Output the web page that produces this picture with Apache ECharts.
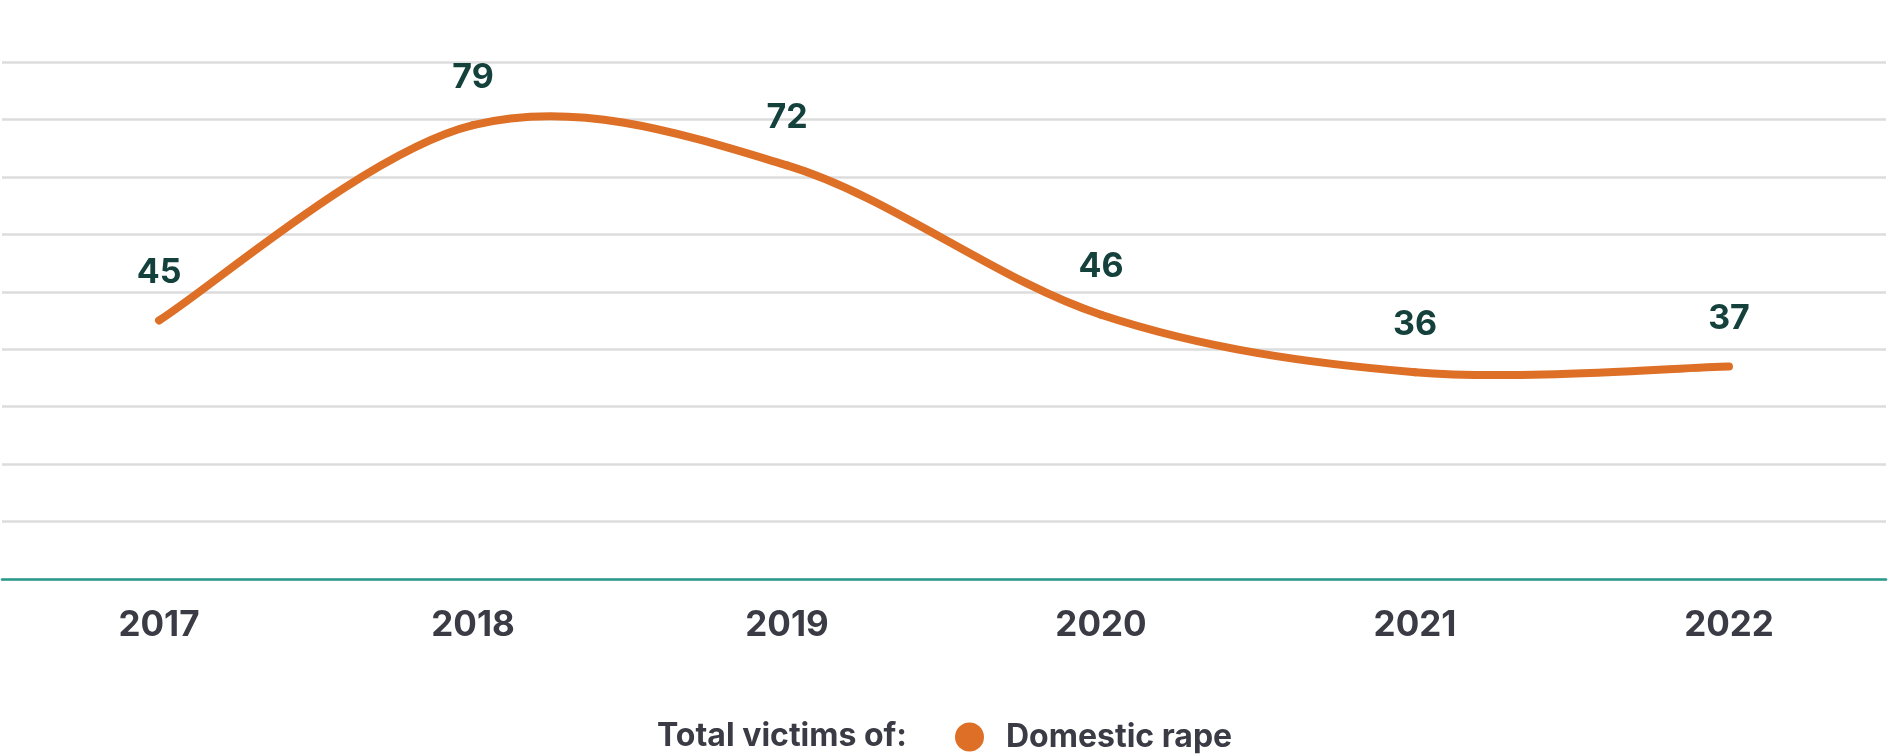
<!DOCTYPE html>
<html>
<head>
<meta charset="utf-8">
<script src="https://cdn.jsdelivr.net/npm/echarts@6/dist/echarts.min.js"></script>
<style>html,body{margin:0;padding:0;background:#fff}#c{width:1888px;height:755px}</style>
</head>
<body>
<div id="c"></div>
<script>
const categories = ['2017', '2018', '2019', '2020', '2021', '2022'];
const domesticRape = [45, 79, 72, 46, 36, 37];
const seriesName = 'Domestic rape';
const legendLead = 'Total victims of:';

const ORANGE = '#dd6f26';

// Cardinal (Catmull-Rom) spline segment between point i and i+1, through axis coordinates
function renderSegment(params, api) {
  const i = params.dataIndex;
  const n = domesticRape.length;
  if (i >= n - 1) return null;
  const P = (k) => {
    const kk = Math.max(0, Math.min(n - 1, k));
    return api.coord([kk, domesticRape[kk]]);
  };
  const p0 = P(i - 1), p1 = P(i), p2 = P(i + 1), p3 = P(i + 2);
  return {
    type: 'bezierCurve',
    shape: {
      x1: p1[0], y1: p1[1],
      cpx1: p1[0] + (p2[0] - p0[0]) / 6, cpy1: p1[1] + (p2[1] - p0[1]) / 6,
      cpx2: p2[0] - (p3[0] - p1[0]) / 6, cpy2: p2[1] - (p3[1] - p1[1]) / 6,
      x2: p2[0], y2: p2[1]
    },
    style: { stroke: ORANGE, lineWidth: 8, fill: null, lineCap: 'round' }
  };
}

const chart = echarts.init(document.getElementById('c'));
chart.setOption({
  animation: false,
  grid: { left: 2, right: 2, top: 62, bottom: 176, containLabel: false },
  xAxis: {
    type: 'category',
    data: categories,
    boundaryGap: true,
    axisLine: { lineStyle: { color: '#2a9a8c', width: 2.5 } },
    axisTick: { show: false },
    axisLabel: { margin: 29, color: '#3b3b45', fontFamily: 'Inter', fontWeight: 700, fontSize: 35 }
  },
  yAxis: {
    type: 'value',
    min: 0, max: 90, interval: 10,
    axisLabel: { show: false },
    axisLine: { show: false },
    axisTick: { show: false },
    splitLine: { lineStyle: { color: '#dcdcdc', width: 2.5 } }
  },
  legend: {
    left: 950, top: 716,
    icon: 'circle', itemWidth: 29, itemHeight: 29,
    textStyle: { color: '#3b3b45', fontFamily: 'Inter', fontWeight: 700, fontSize: 32, padding: [0, 0, 0, 17] },
    data: [seriesName]
  },
  graphic: [{
    type: 'text', left: 657, top: 720,
    style: { text: legendLead, fill: '#3b3b45', font: '700 32px Inter' }
  }],
  series: [{
    name: seriesName,
    type: 'line',
    data: domesticRape,
    symbol: 'circle', symbolSize: 1, showSymbol: true,
    itemStyle: { color: ORANGE },
    lineStyle: { width: 0, opacity: 0 },
    z: 3,
    label: { show: true, position: 'top', distance: 30, color: '#15413c', fontFamily: 'Inter', fontWeight: 700, fontSize: 34 }
  }, {
    name: seriesName,
    type: 'custom',
    coordinateSystem: 'cartesian2d',
    data: domesticRape.map((v, i) => [i, v]),
    renderItem: renderSegment,
    z: 2,
    silent: true
  }]
});
</script>
</body>
</html>
